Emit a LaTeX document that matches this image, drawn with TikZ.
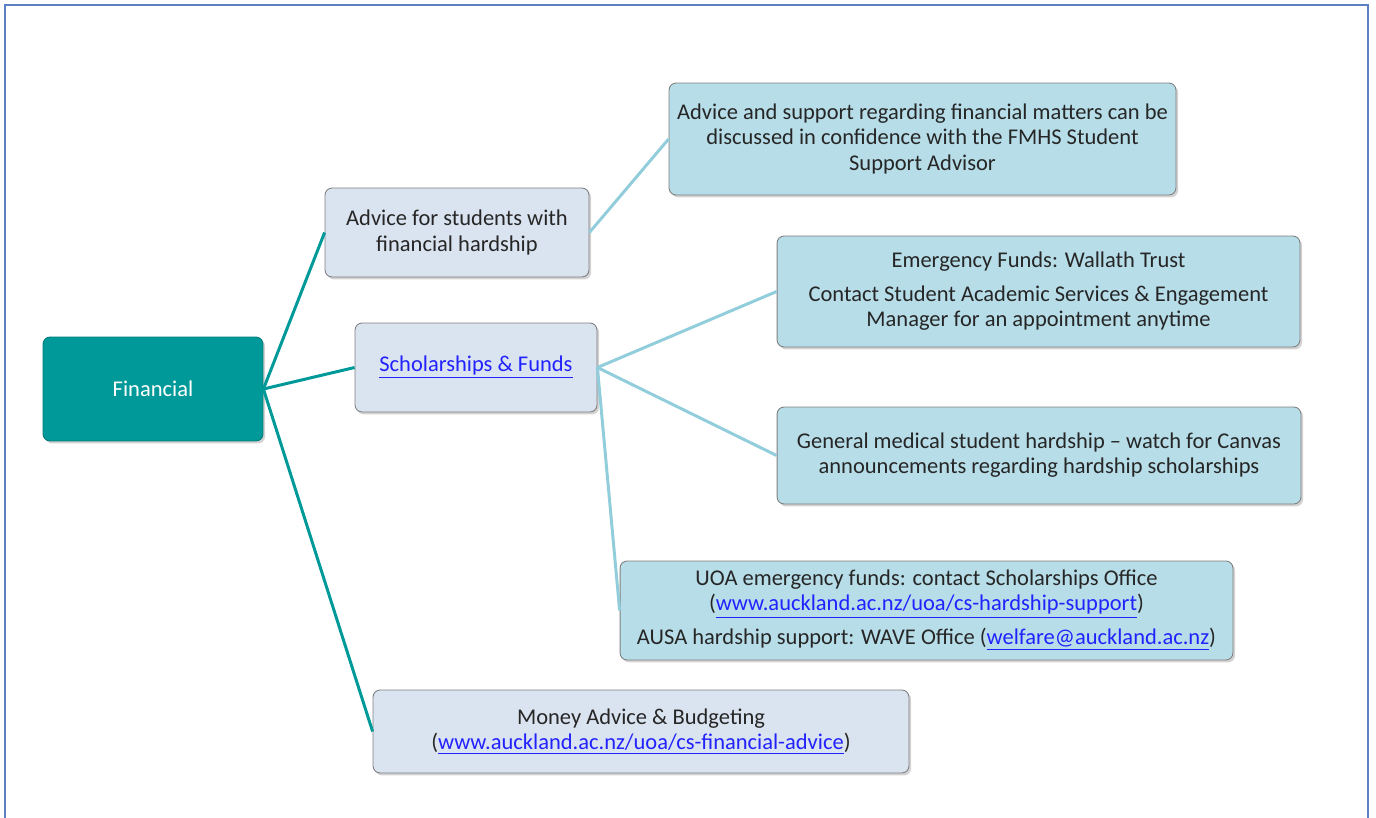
\documentclass[tikz,border=0pt]{standalone}
\usepackage{fontspec}
\setmainfont{Carlito}
\usetikzlibrary{shadows}
\definecolor{rootteal}{HTML}{009999}
\definecolor{topicfill}{HTML}{DAE3F0}
\definecolor{infofill}{HTML}{B6DDE8}
\definecolor{infoline}{HTML}{92CDDC}
\definecolor{boxline}{HTML}{7F7F7F}
\definecolor{frameblue}{HTML}{5B80C4}
\definecolor{linkblue}{HTML}{2222FF}
\newcommand{\weblink}[1]{\textcolor{linkblue}{\underline{#1}}}
\tikzset{
	basebox/.style={draw=boxline, line width=0.5pt, rounded corners=4pt, align=center,
		font=\fontsize{12.8}{14.3}\selectfont, text=black!85, inner sep=2pt,
		drop shadow={shadow xshift=1.2pt, shadow yshift=-1.4pt, opacity=0.35}},
	rootbox/.style={basebox, fill=rootteal, draw=rootteal!80!black, text=white},
	topicbox/.style={basebox, fill=topicfill},
	infobox/.style={basebox, fill=infofill},
	rootlink/.style={draw=rootteal, line width=1.7pt},
	sublink/.style={draw=infoline, line width=1.7pt}
}
\begin{document}
\begin{tikzpicture}[x=0.02cm, y=-0.02cm]
	\useasboundingbox (0,0) rectangle (1376,818);
	% frame, open at the bottom
	\draw[frameblue, line width=1.1pt] (5,818) -- (5,5) -- (1368,5) -- (1368,818);

	\node[rootbox, minimum width=4.4cm, minimum height=2.08cm] (fin) at (153,389) {Financial};

	\node[topicbox, minimum width=5.28cm, minimum height=1.78cm] (adv) at (457,232.5)
		{Advice for students with\\ financial hardship};
	\node[topicbox, minimum width=4.84cm, minimum height=1.78cm] (schol) at (476,367.5)
		{\weblink{Scholarships \& Funds}};
	\node[topicbox, minimum width=10.72cm, minimum height=1.66cm] (money) at (641,731.5)
		{Money Advice \& Budgeting\\ (\weblink{www.auckland.ac.nz/uoa/cs-financial-advice})};

	\node[infobox, minimum width=10.14cm, minimum height=2.24cm] (conf) at (922.5,139)
		{Advice and support regarding financial matters can be\\ discussed in confidence with the FMHS Student\\ Support Advisor};
	\node[infobox, minimum width=10.46cm, minimum height=2.22cm] (wallath) at (1038.5,291.5)
		{Emergency Funds: Wallath Trust\\[5pt] Contact Student Academic Services \& Engagement\\ Manager for an appointment anytime};
	\node[infobox, minimum width=10.48cm, minimum height=1.94cm] (canvas) at (1039,455.5)
		{General medical student hardship -- watch for Canvas\\ announcements regarding hardship scholarships};
	\node[infobox, minimum width=12.26cm, minimum height=1.98cm] (uoa) at (926.5,610.5)
		{UOA emergency funds: contact Scholarships Office\\ (\weblink{www.auckland.ac.nz/uoa/cs-hardship-support})\\[5pt]
		AUSA hardship support: WAVE Office (\weblink{welfare@auckland.ac.nz})};

	% connectors
	\draw[rootlink] (fin.east) -- (adv.west);
	\draw[rootlink] (fin.east) -- (schol.west);
	\draw[rootlink] (fin.east) -- (money.west);
	\draw[sublink] (adv.east) -- (conf.west);
	\draw[sublink] (schol.east) -- (wallath.west);
	\draw[sublink] (schol.east) -- (canvas.west);
	\draw[sublink] (schol.east) -- (uoa.west);
\end{tikzpicture}
\end{document}
